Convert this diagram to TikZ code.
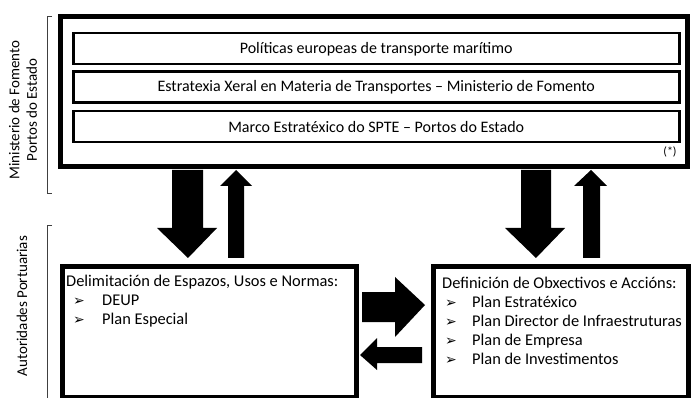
\documentclass[tikz,border=0pt]{standalone}
\usepackage{fontspec}
\setmainfont{Carlito}
\newfontfamily\dejavu{DejaVu Sans}
\newcommand{\bulmark}{{\dejavu\fontsize{14}{14}\selectfont ➢}}
\begin{document}
\begin{tikzpicture}[x=1pt,y=-1pt,
  outerbox/.style={draw,line width=5pt,inner sep=0pt,anchor=north west},
  innerbox/.style={draw,line width=2.5pt,inner sep=0pt,anchor=north west,
    font=\fontsize{16}{19}\selectfont},
  listtext/.style={anchor=north west,inner sep=0pt,align=left,
    font=\fontsize{16.4}{19}\selectfont},
  sidetext/.style={rotate=90,align=center,inner sep=0pt,
    font=\fontsize{15}{17.5}\selectfont},
  brack/.style={draw=black!75,line width=0.9pt},
  blockarrow/.style={fill=black}]
\useasboundingbox (0,0) rectangle (691,398);

% top container
\node[outerbox,minimum width=627pt,minimum height=150pt] (top) at (58,14) {};
\node[innerbox,minimum width=606pt,minimum height=31pt] (pol) at (72,32) {Políticas europeas de transporte marítimo};
\node[innerbox,minimum width=606pt,minimum height=31pt] (est) at (72,70.5) {Estratexia Xeral en Materia de Transportes -- Ministerio de Fomento};
\node[innerbox,minimum width=606pt,minimum height=31pt] (mar) at (72,110) {Marco Estratéxico do SPTE -- Portos do Estado};
\node[inner sep=0pt,font=\fontsize{12}{12}\selectfont] (ast) at (670,152) {(*)};

% bottom boxes
\node[outerbox,minimum width=294pt,minimum height=130pt] (del) at (60,264.5) {};
\node[outerbox,minimum width=255pt,minimum height=130pt] (def) at (431,264.5) {};

\node[listtext] (delt) at (66,275) {Delimitación de Espazos, Usos e Normas:\\
\hspace*{7pt}\makebox[29pt][l]{\bulmark}DEUP\\
\hspace*{7pt}\makebox[29pt][l]{\bulmark}Plan Especial};
\node[listtext] (deft) at (442,276.5) {Definición de Obxectivos e Accións:\\
\hspace*{3pt}\makebox[27pt][l]{\bulmark}Plan Estratéxico\\
\hspace*{3pt}\makebox[27pt][l]{\bulmark}Plan Director de Infraestruturas\\
\hspace*{3pt}\makebox[27pt][l]{\bulmark}Plan de Empresa\\
\hspace*{3pt}\makebox[27pt][l]{\bulmark}Plan de Investimentos};

% side labels and brackets
\node[sidetext] (min) at (23,110) {Ministerio de Fomento\\Portos do Estado};
\node[sidetext] (aut) at (22,306) {Autoridades Portuarias};
\draw[brack] (52,16) -- (47,16) -- (47,193) -- (52,193);
\draw[brack] (52,225) -- (47,225) -- (47,398);

% vertical block arrows (left pair)
\fill[blockarrow] (172,170) -- (203,170) -- (203,228) -- (217,228) -- (188,258) -- (157,228) -- (172,228) -- cycle;
\fill[blockarrow] (228,258) -- (244,258) -- (244,186) -- (252,186) -- (236,170) -- (220,186) -- (228,186) -- cycle;
% vertical block arrows (right pair)
\fill[blockarrow] (521,170) -- (551,170) -- (551,228) -- (565,228) -- (536,258) -- (505,228) -- (521,228) -- cycle;
\fill[blockarrow] (583,258) -- (600,258) -- (600,186) -- (607,186) -- (591,170) -- (574,186) -- (583,186) -- cycle;
% horizontal block arrows
\fill[blockarrow] (362,292) -- (395,292) -- (395,277) -- (425,305) -- (395,337) -- (395,322) -- (362,322) -- cycle;
\fill[blockarrow] (422,347) -- (377,347) -- (377,338) -- (360,355) -- (377,370) -- (377,363) -- (422,363) -- cycle;
\end{tikzpicture}
\end{document}
